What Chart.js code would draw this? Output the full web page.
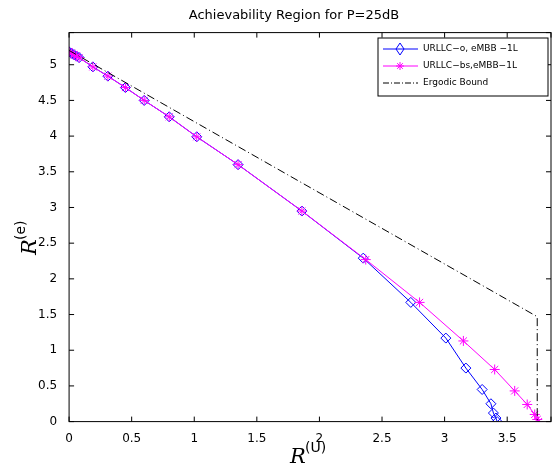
<!DOCTYPE html>
<html><head><meta charset="utf-8">
<script src="https://cdn.jsdelivr.net/npm/chart.js@4/dist/chart.umd.min.js"></script>
<style>body{margin:0;background:#fff}#wrap{width:557px;height:468px}</style>
</head><body><div id="wrap"><canvas id="chart"></canvas></div>
<script>
const blueX = [0, 0.02, 0.04, 0.06, 0.08, 0.19, 0.31, 0.45, 0.6, 0.8, 1.02, 1.35, 1.86, 2.35, 2.73, 3.01, 3.17, 3.3, 3.37, 3.39, 3.41, 3.42];
const blueY = [5.18, 5.16, 5.14, 5.12, 5.1, 4.97, 4.84, 4.68, 4.5, 4.27, 3.99, 3.6, 2.95, 2.29, 1.67, 1.17, 0.75, 0.45, 0.25, 0.12, 0.05, 0];
const magX = [0, 0.02, 0.04, 0.06, 0.08, 0.19, 0.31, 0.45, 0.6, 0.8, 1.02, 1.35, 1.86, 2.37, 2.8, 3.15, 3.4, 3.56, 3.66, 3.72, 3.74, 3.75];
const magY = [5.18, 5.16, 5.14, 5.12, 5.1, 4.97, 4.84, 4.68, 4.5, 4.27, 3.99, 3.6, 2.95, 2.27, 1.67, 1.13, 0.73, 0.43, 0.24, 0.1, 0.03, 0];
const ergX = [0, 3.74, 3.74];
const ergY = [5.2, 1.47, 0];
const labels = ['URLLC\u2212o, eMBB \u22121L', 'URLLC\u2212bs,eMBB\u22121L', 'Ergodic Bound'];

const pts = (xs, ys) => xs.map((x, i) => ({x: x, y: ys[i]}));

const frame = {
  id: 'frame',
  afterDraw(c) {
    const {ctx, chartArea: a, scales} = c;
    ctx.save();
    ctx.strokeStyle = '#000'; ctx.lineWidth = 1;
    ctx.strokeRect(a.left, a.top, a.right - a.left, a.bottom - a.top);
    ctx.beginPath();
    scales.x.ticks.forEach(t => {
      const px = scales.x.getPixelForValue(t.value);
      ctx.moveTo(px, a.bottom); ctx.lineTo(px, a.bottom - 5);
      ctx.moveTo(px, a.top); ctx.lineTo(px, a.top + 5);
    });
    scales.y.ticks.forEach(t => {
      const py = scales.y.getPixelForValue(t.value);
      ctx.moveTo(a.left, py); ctx.lineTo(a.left + 5, py);
      ctx.moveTo(a.right, py); ctx.lineTo(a.right - 5, py);
    });
    ctx.stroke();
    ctx.fillStyle = '#000';
    ctx.font = 'italic 21px "DejaVu Serif"';
    ctx.textBaseline = 'alphabetic';
    ctx.fillText('R', 290, 463);
    ctx.font = '14px "DejaVu Sans"';
    ctx.fillText('(U)', 305, 452);
    ctx.save();
    ctx.translate(36, 255); ctx.rotate(-Math.PI / 2);
    ctx.font = 'italic 21px "DejaVu Serif"';
    ctx.fillText('R', 0, 0);
    ctx.font = '14px "DejaVu Sans"';
    ctx.fillText('(e)', 15, -11);
    ctx.restore();
    const lx = 378, ly = 38, lw = 170, lh = 58;
    ctx.fillStyle = '#fff'; ctx.fillRect(lx, ly, lw, lh);
    ctx.strokeRect(lx, ly, lw, lh);
    ctx.font = '9px "DejaVu Sans"';
    const cols = ['#0000ff', '#ff00ff', '#000'];
    labels.forEach((l, i) => {
      const y = ly + 11 + i * 17;
      ctx.strokeStyle = cols[i]; ctx.lineWidth = 1;
      ctx.setLineDash(i === 2 ? [6, 2, 1, 2] : []);
      ctx.beginPath(); ctx.moveTo(lx + 5, y); ctx.lineTo(lx + 40, y); ctx.stroke();
      ctx.setLineDash([]);
      const mx = lx + 22;
      if (i === 0) {
        ctx.beginPath(); ctx.moveTo(mx, y - 6); ctx.lineTo(mx + 4, y); ctx.lineTo(mx, y + 6); ctx.lineTo(mx - 4, y); ctx.closePath(); ctx.stroke();
      } else if (i === 1) {
        ctx.beginPath();
        for (let k = 0; k < 4; k++) { const an = k * Math.PI / 4; ctx.moveTo(mx - 4 * Math.cos(an), y - 4 * Math.sin(an)); ctx.lineTo(mx + 4 * Math.cos(an), y + 4 * Math.sin(an)); }
        ctx.stroke();
      }
      ctx.fillStyle = '#000';
      ctx.textBaseline = 'middle';
      ctx.fillText(l, lx + 45, y);
    });
    ctx.restore();
  }
};

new Chart(document.getElementById('chart'), {
  type: 'scatter',
  data: {
    datasets: [
      { label: labels[2], data: pts(ergX, ergY), showLine: true, borderColor: '#000', borderWidth: 1, borderDash: [8, 3, 1, 3], pointRadius: 0 },
      { label: labels[1], data: pts(magX, magY), showLine: true, borderColor: '#ff00ff', borderWidth: 1, pointStyle: 'star', pointRadius: 5, pointBorderColor: '#ff00ff', pointBackgroundColor: '#ff00ff' },
      { label: labels[0], data: pts(blueX, blueY), showLine: true, borderColor: '#0000ff', borderWidth: 1, pointStyle: 'rectRot', pointRadius: 5, pointBorderColor: '#0000ff', pointBackgroundColor: 'rgba(0,0,0,0)' }
    ]
  },
  options: {
    responsive: true, maintainAspectRatio: false, animation: false,
    layout: { padding: { left: 34, right: 3, bottom: 20, top: 2 } },
    plugins: {
      legend: { display: false }, tooltip: { enabled: false },
      title: { display: true, text: 'Achievability Region for P=25dB', color: '#000', font: { family: 'DejaVu Sans', size: 13, weight: 'normal' }, padding: { top: 6, bottom: 9 } }
    },
    scales: {
      x: { type: 'linear', min: 0, max: 3.85, grid: { display: false }, border: { display: false },
        ticks: { stepSize: 0.5, color: '#000', font: { family: 'DejaVu Sans', size: 12 }, padding: 2,
          callback: v => (v > 3.6 ? '' : v) } },
      y: { type: 'linear', min: 0, max: 5.45, grid: { display: false }, border: { display: false },
        ticks: { stepSize: 0.5, color: '#000', font: { family: 'DejaVu Sans', size: 12 }, padding: 4,
          callback: v => (v > 5.2 ? '' : v) } }
    }
  },
  plugins: [frame]
});
</script></body></html>
